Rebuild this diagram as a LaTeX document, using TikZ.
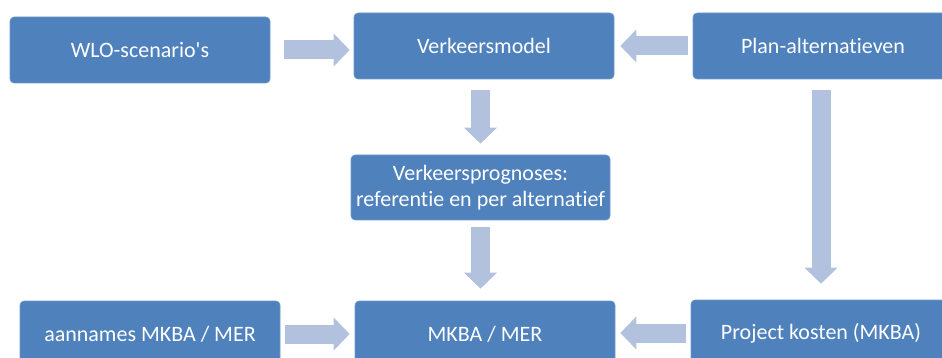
\documentclass[tikz,border=0pt]{standalone}
\usepackage{fontspec}
\newfontfamily\stagefont{Carlito}[Ligatures=NoCommon]
\usepackage{tikz}
\usetikzlibrary{arrows.meta,calc}
\definecolor{stageblue}{RGB}{79,129,189}
\definecolor{flowblue}{RGB}{178,194,222}

\begin{document}
\begin{tikzpicture}[
    x=1pt, y=-1pt,
    stage/.style={rectangle, draw=stageblue!80!white, line width=0.6pt, fill=stageblue, minimum width=260pt, minimum height=66pt, inner sep=0pt, align=center, text=white, font=\stagefont\fontsize{22}{26.5}\selectfont, rounded corners=4pt},
    flow/.style={-{Triangle[width=32pt,length=16pt]}, line width=19pt, flowblue}
  ]
    \useasboundingbox (0,0) rectangle (942,358);
    \clip (0,0) rectangle (942,358);

    % Top row
    \node[stage] (wlo) at (140,50) {WLO-scenario's};
    \node[stage] (model) at (484,46) {Verkeersmodel};
    \node[stage] (plan) at (823,46) {Plan-alternatieven};

    % Middle
    \node[stage, minimum width=259pt, minimum height=65pt] (prog) at (480.5,187.5) {Verkeersprognoses:\\referentie en per alternatief};

    % Bottom row
    \node[stage] (aann) at (150,334) {aannames MKBA / MER};
    \node[stage] (mkba) at (485,334) {MKBA / MER};
    \node[stage] (kost) at (821,333) {Project kosten (MKBA)};

    % Connections
    \draw[flow, shorten <=14pt, shorten >=4pt] (wlo.east) -- (wlo.east -| model.west);
    \draw[flow, shorten <=5pt, shorten >=6pt] (plan.west) -- (plan.west -| model.east);
    \draw[flow, shorten <=11pt, shorten >=11pt] (prog.north |- model.south) -- (prog.north);
    \draw[flow, shorten <=7pt, shorten >=12pt] (prog.south) -- (prog.south |- mkba.north);
    \draw[flow, shorten <=11pt, shorten >=16pt] (kost.north |- plan.south) -- (kost.north);
    \draw[flow, shorten <=5pt, shorten >=5pt] (aann.east) -- (aann.east -| mkba.west);
    \draw[flow, shorten <=5pt, shorten >=5pt] (kost.west) -- (kost.west -| mkba.east);
  \end{tikzpicture}
\end{document}
